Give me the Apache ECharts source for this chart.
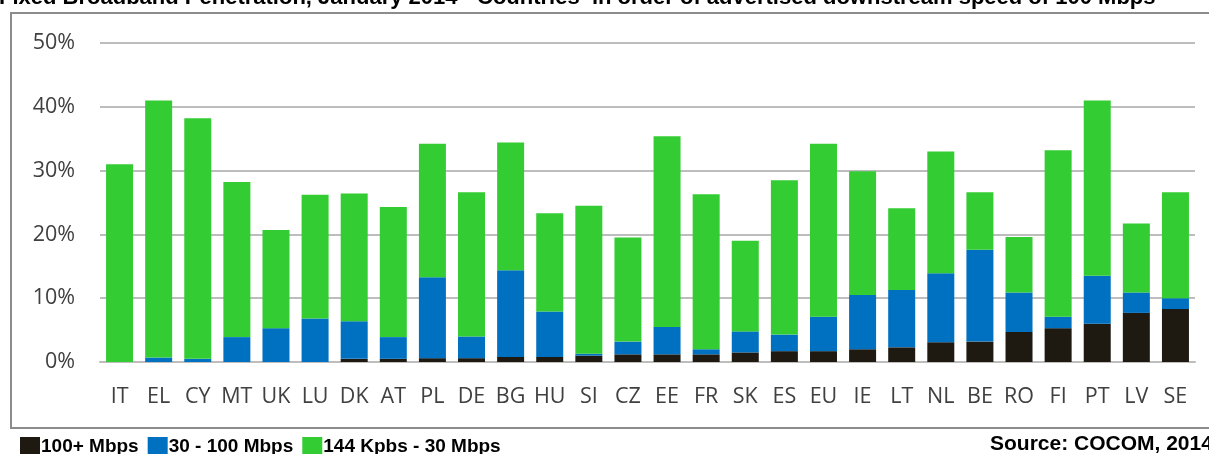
<!DOCTYPE html>
<html>
<head>
<meta charset="utf-8">
<script src="https://cdn.jsdelivr.net/npm/echarts@6/dist/echarts.min.js"></script>
<style>html,body{margin:0;padding:0;background:#fff;}#c{width:1209px;height:454px;}</style>
</head>
<body>
<div id="c"></div>
<script>
const categories = ['IT','EL','CY','MT','UK','LU','DK','AT','PL','DE','BG','HU','SI','CZ','EE','FR','SK','ES','EU','IE','LT','NL','BE','RO','FI','PT','LV','SE'];
// segment values (% of population)
const above100 = [0,0,0,0,0,0,0.5,0.5,0.6,0.6,0.8,0.8,1.0,1.2,1.2,1.2,1.5,1.7,1.7,2.0,2.3,3.1,3.2,4.7,5.3,6.0,7.7,8.3];
const from30to100 = [0,0.7,0.5,3.9,5.3,6.8,5.9,3.4,12.7,3.4,13.6,7.1,0.3,2.0,4.3,0.8,3.3,2.6,5.4,8.5,9.0,10.8,14.4,6.2,1.8,7.5,3.2,1.7];
const from144kto30 = [31.0,40.3,37.7,24.3,15.4,19.4,20.0,20.4,20.9,22.6,20.0,15.4,23.2,16.3,29.9,24.3,14.2,24.2,27.1,19.4,12.8,19.1,9.0,8.7,26.1,27.5,10.8,16.6];
const seriesNames = ['100+ Mbps','30 - 100 Mbps','144 Kpbs - 30 Mbps'];
const titleText = 'Fixed Broadband Penetration, January 2014 - Countries  in order of advertised downstream speed of 100 Mbps';
const sourceText = 'Source: COCOM, 2014';

const colors = ['#1e1a12','#0070c0','#33cc33'];
const chart = echarts.init(document.getElementById('c'), null, {renderer:'canvas'});
const labelFont = {fontFamily:'Open Sans', fontSize:21.5, color:'#404040'};
chart.setOption({
  animation:false,
  color: colors,
  grid:{left:100, right:14, top:43, bottom:92, containLabel:false},
  legend:{
    left:15, top:432, itemWidth:20, itemHeight:19, itemGap:9, icon:'rect',
    data: seriesNames,
    textStyle:{fontFamily:'Liberation Sans', fontWeight:'bold', fontSize:19, color:'#000', padding:[0,0,0,-4]}
  },
  xAxis:{
    type:'category', data:categories,
    axisLine:{show:true, lineStyle:{color:'#bdbdbd', width:2}},
    axisTick:{show:false},
    axisLabel:Object.assign({margin:24, interval:0}, labelFont)
  },
  yAxis:{
    type:'value', min:0, max:50, interval:10,
    axisLine:{show:false}, axisTick:{show:false},
    axisLabel:Object.assign({margin:25, formatter:'{value}%'}, labelFont),
    splitLine:{lineStyle:{color:'#bdbdbd', width:2}}
  },
  graphic:[
    {type:'rect', shape:{x:11, y:13, width:1220, height:415}, style:{fill:null, stroke:'#8c8c8c', lineWidth:2}, silent:true, z:-1},
    {type:'text', x:-1, y:-2, style:{text:titleText, fontFamily:'Liberation Sans', fontWeight:'bold', fontSize:22, fill:'#000', verticalAlign:'middle', align:'left'}},
    {type:'text', x:990, y:444, style:{text:sourceText, fontFamily:'Liberation Sans', fontWeight:'bold', fontSize:21, fill:'#000', verticalAlign:'middle', align:'left'}}
  ],
  series:[
    {name:seriesNames[0], type:'bar', stack:'s', data:above100, barWidth:27, itemStyle:{color:colors[0]}},
    {name:seriesNames[1], type:'bar', stack:'s', data:from30to100, barWidth:27, itemStyle:{color:colors[1]}},
    {name:seriesNames[2], type:'bar', stack:'s', data:from144kto30, barWidth:27, itemStyle:{color:colors[2]}}
  ]
});
</script>
</body>
</html>
